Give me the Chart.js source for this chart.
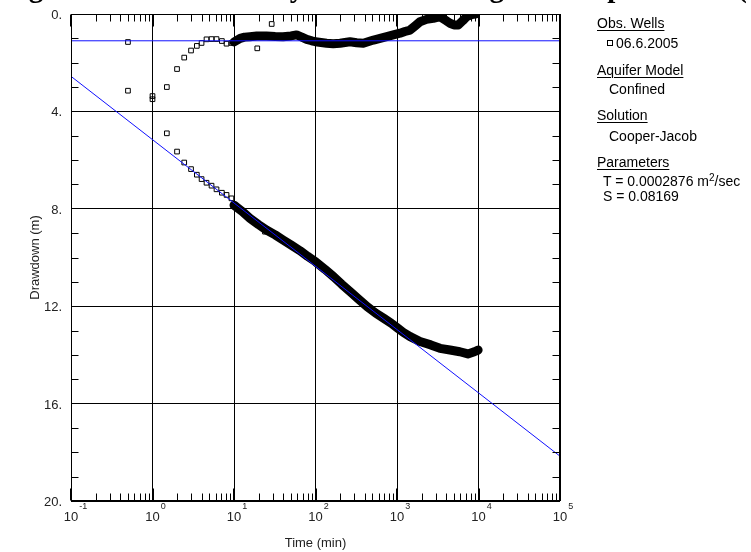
<!DOCTYPE html>
<html>
<head>
<meta charset="utf-8">
<script src="https://cdn.jsdelivr.net/npm/chart.js@4"></script>
<style>
  html, body { margin: 0; padding: 0; background: #fff; }
  #wrap { position: relative; width: 751px; height: 552px; overflow: hidden; font-family: "Liberation Sans", Arial, sans-serif; }
  #chart { position: absolute; left: 0; top: 0; }
  .title { position: absolute; left: 3px; top: -28px; font: bold 29px "Liberation Serif", "Times New Roman", serif; line-height: 30px; white-space: nowrap; }
  .lg { position: absolute; font-size: 14px; line-height: 16px; white-space: nowrap; color: #000; }
  .hd { text-decoration: underline; text-decoration-thickness: 1px; text-underline-offset: 2px; }
  .lg sup { font-size: 10px; line-height: 0; vertical-align: 5px; }
  .sq { position: absolute; width: 6px; height: 6px; box-sizing: border-box; border: 1px solid #000; }
</style>
</head>
<body>
<div id="wrap">
  <canvas id="chart" width="751" height="552"></canvas>
  <div class="title">Figure 4: Transmissivity estimated using the Cooper-Jacob (1946) Method</div>
  <div class="lg hd" style="left:597px; top:15px;">Obs. Wells</div>
  <div class="sq" style="left:607px; top:40px;"></div>
  <div class="lg" style="left:616px; top:35px;">06.6.2005</div>
  <div class="lg hd" style="left:597px; top:62px;">Aquifer Model</div>
  <div class="lg" style="left:609px; top:81px;">Confined</div>
  <div class="lg hd" style="left:597px; top:107px;">Solution</div>
  <div class="lg" style="left:609px; top:128px;">Cooper-Jacob</div>
  <div class="lg hd" style="left:597px; top:154px;">Parameters</div>
  <div class="lg" style="left:603px; top:173px;">T = 0.0002876 m<sup>2</sup>/sec</div>
  <div class="lg" style="left:603px; top:188px;">S = 0.08169</div>
</div>
<script>
// Cooper-Jacob straight line fit
const fitTime = [0.1, 100000];
const fitDrawdown = [2.56, 18.16];

// horizontal reference line
const refTime = [0.1, 100000];
const refDrawdown = [1.1, 1.1];

// early, sparse observations (min, m)
const obsTime = [0.5, 0.5, 1.0, 1.0, 1.5, 1.5, 2.0, 2.0, 2.45, 2.45, 2.97, 2.97, 3.5, 3.5,
  4.0, 4.0, 4.6, 4.6, 5.3, 5.3, 6.1, 6.1, 7.1, 7.1, 8.1, 8.1, 9.3, 9.3, 19.3, 24, 29];
const obsDrawdown = [1.15, 3.15, 3.37, 3.5, 3.0, 4.9, 2.26, 5.65, 1.79, 6.1, 1.5, 6.37, 1.31, 6.6,
  1.19, 6.78, 1.04, 6.93, 1.03, 7.05, 1.03, 7.2, 1.11, 7.34, 1.22, 7.43, 1.19, 7.57, 1.41, 8.94, 0.41];

// dense upper branch
const upperTime = [10, 11.9, 13.5, 15.7, 19, 25, 32, 40, 50, 58.6, 68, 78, 90, 100, 137, 165, 200,
  230, 265, 320, 386, 450, 515, 620, 749, 900, 1090, 1250, 1445, 1650, 1915, 2300, 2785, 3370,
  3900, 4470, 5000, 5640, 6400, 7160, 8300, 9200];
const upperDrawdown = [1.15, 1.0, 0.95, 0.93, 0.9, 0.9, 0.92, 0.93, 0.9, 0.86, 0.95, 1.04, 1.1, 1.14,
  1.2, 1.22, 1.2, 1.17, 1.14, 1.18, 1.2, 1.13, 1.07, 1.0, 0.93, 0.86, 0.79, 0.72, 0.66, 0.5, 0.32,
  0.22, 0.18, 0.11, 0.25, 0.38, 0.45, 0.45, 0.28, 0.11, 0.02, 0.0];

// dense lower branch
const lowerTime = [10, 12.5, 15.7, 20, 25, 32, 40, 51, 64.5, 80, 100, 130, 167, 210, 268, 340, 430,
  545, 690, 850, 1000, 1200, 1450, 1915, 2600, 3370, 4470, 5900, 7400, 8900, 9900];
const lowerDrawdown = [7.85, 8.1, 8.39, 8.65, 8.87, 9.07, 9.28, 9.5, 9.72, 9.95, 10.17, 10.48, 10.79,
  11.1, 11.41, 11.72, 12.02, 12.28, 12.5, 12.7, 12.88, 13.08, 13.25, 13.45, 13.59, 13.73, 13.8,
  13.87, 13.96, 13.87, 13.8];

const yMajor = [0, 4, 8, 12, 16, 20];
const xDecades = [-1, 0, 1, 2, 3, 4, 5];

function pts(xs, ys) {
  return xs.map((x, i) => ({ x, y: ys[i] }));
}

function isDecade(v) {
  const l = Math.log10(v);
  return Math.abs(l - Math.round(l)) < 1e-6;
}

const axisDecor = {
  id: 'axisDecor',
  afterDraw(chart) {
    const { ctx, chartArea: a, scales: { x, y } } = chart;
    const L = Math.round(a.left) + 0.5, R = Math.round(a.right) - 0.5;
    const T = Math.round(a.top) + 0.5, B = Math.round(a.bottom) - 0.5;
    ctx.save();
    ctx.strokeStyle = '#000';
    ctx.lineWidth = 1;
    ctx.strokeRect(L, T, R - L, B - T);

    // x ticks, inward top and bottom
    ctx.beginPath();
    for (let e = -1; e <= 4; e++) {
      for (let m = 2; m <= 9; m++) {
        const px = Math.round(x.getPixelForValue(m * Math.pow(10, e))) + 0.5;
        ctx.moveTo(px, B); ctx.lineTo(px, B - 7);
        ctx.moveTo(px, T); ctx.lineTo(px, T + 7);
      }
    }
    // y minor ticks left and right
    for (let v = 1; v < 20; v++) {
      if (v % 4 === 0) continue;
      const py = Math.round(y.getPixelForValue(v)) + 0.5;
      ctx.moveTo(L, py); ctx.lineTo(L + 7, py);
      ctx.moveTo(R, py); ctx.lineTo(R - 7, py);
    }
    ctx.stroke();

    // major x ticks a bit heavier
    ctx.lineWidth = 2;
    ctx.beginPath();
    xDecades.forEach((e) => {
      const px = Math.round(x.getPixelForValue(Math.pow(10, e)));
      ctx.moveTo(px, B); ctx.lineTo(px, B - 12);
      ctx.moveTo(px, T); ctx.lineTo(px, T + 12);
    });
    ctx.stroke();

    // y labels
    ctx.fillStyle = '#222';
    ctx.font = '13px "Liberation Sans", Arial, sans-serif';
    ctx.textAlign = 'right';
    ctx.textBaseline = 'middle';
    yMajor.forEach((v) => {
      ctx.fillText(v + '.', 62, y.getPixelForValue(v) + 1.5);
    });

    // x labels 10^n
    xDecades.forEach((e) => {
      const px = x.getPixelForValue(Math.pow(10, e));
      ctx.font = '13px "Liberation Sans", Arial, sans-serif';
      ctx.textAlign = 'center';
      ctx.fillText('10', px, 517);
      const w = ctx.measureText('10').width;
      ctx.font = '9px "Liberation Sans", Arial, sans-serif';
      ctx.textAlign = 'left';
      ctx.fillText(String(e), px + w / 2 + 1, 507);
    });

    // axis titles
    ctx.font = '13px "Liberation Sans", Arial, sans-serif';
    ctx.textAlign = 'center';
    ctx.fillText('Time (min)', (a.left + a.right) / 2, 543);
    ctx.translate(35, (a.top + a.bottom) / 2);
    ctx.rotate(-Math.PI / 2);
    ctx.font = '13px "Liberation Sans", Arial, sans-serif';
    ctx.fillText('Drawdown (m)', 0, 0);
    ctx.restore();
  }
};

const squareStyle = {
  pointStyle: 'rect',
  pointRadius: 3.3,
  pointBorderWidth: 1,
  pointBorderColor: '#000',
  pointBackgroundColor: 'rgba(0,0,0,0)',
};

const config = {
  type: 'scatter',
  data: {
    datasets: [
      {
        label: 'Cooper-Jacob',
        data: pts(fitTime, fitDrawdown),
        showLine: true,
        borderColor: '#1010ff',
        borderWidth: 1,
        pointRadius: 0,
        clip: 0,
      },
      {
        label: 'reference',
        data: pts(refTime, refDrawdown),
        showLine: true,
        borderColor: '#1010ff',
        borderWidth: 1,
        pointRadius: 0,
        clip: 0,
      },
      {
        label: '06.6.2005',
        data: pts(obsTime, obsDrawdown),
        ...squareStyle,
        clip: 0,
      },
      {
        label: '06.6.2005 upper',
        data: pts(upperTime, upperDrawdown),
        showLine: true,
        borderColor: '#000',
        borderWidth: 9,
        borderJoinStyle: 'round',
        borderCapStyle: 'round',
        ...squareStyle,
        clip: 0,
      },
      {
        label: '06.6.2005 lower',
        data: pts(lowerTime, lowerDrawdown),
        showLine: true,
        borderColor: '#000',
        borderWidth: 9,
        borderJoinStyle: 'round',
        borderCapStyle: 'round',
        ...squareStyle,
        clip: 0,
      },
    ],
  },
  options: {
    responsive: false,
    animation: false,
    layout: { padding: { left: 71, right: 191, top: 14, bottom: 51 } },
    plugins: {
      legend: { display: false },
      tooltip: { enabled: false },
    },
    scales: {
      x: {
        type: 'logarithmic',
        min: 0.1,
        max: 100000,
        ticks: { display: false },
        grid: {
          drawTicks: false,
          lineWidth: 1,
          color: (c) => (c.tick && isDecade(c.tick.value) ? '#000' : 'rgba(0,0,0,0)'),
        },
        border: { display: false },
      },
      y: {
        type: 'linear',
        reverse: true,
        min: 0,
        max: 20,
        ticks: { display: false, stepSize: 4 },
        grid: { drawTicks: false, color: '#000', lineWidth: 1 },
        border: { display: false },
      },
    },
  },
  plugins: [axisDecor],
};

new Chart(document.getElementById('chart').getContext('2d'), config);
</script>
</body>
</html>
